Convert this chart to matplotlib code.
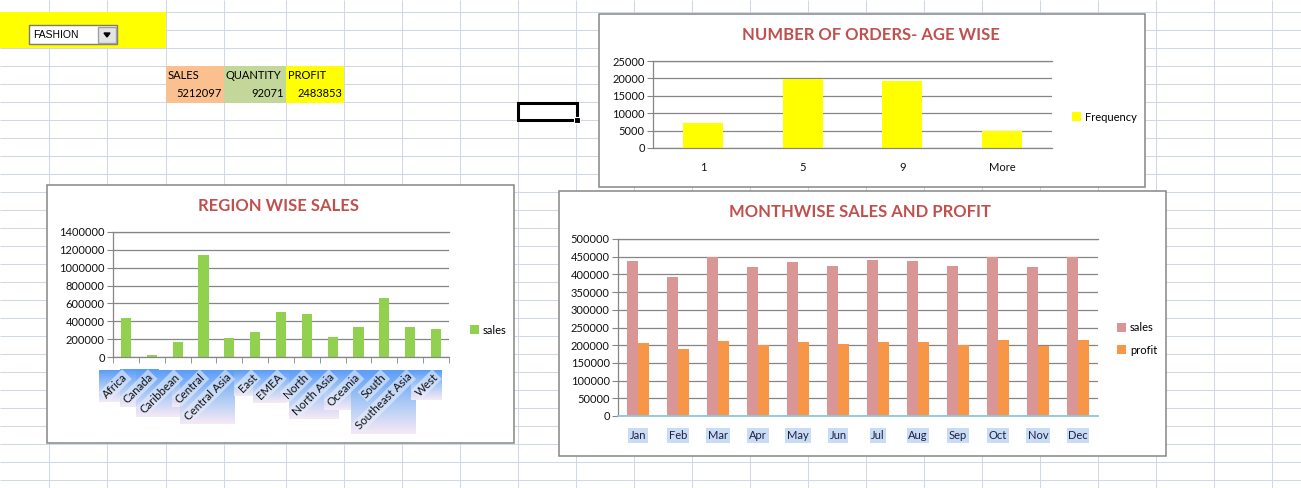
import numpy as np
import matplotlib
matplotlib.use("Agg")
import matplotlib.pyplot as plt
from matplotlib.patches import Rectangle, Polygon
from matplotlib.ticker import FuncFormatter

plt.rcParams["font.family"] = ["Lato", "DejaVu Sans"]

W, H = 1301, 488

# ---- data ----
age_bins = ["1", "5", "9", "More"]
age_freq = [7300, 19700, 19300, 4800]

regions = ["Africa", "Canada", "Caribbean", "Central", "Central Asia", "East", "EMEA",
           "North", "North Asia", "Oceania", "South", "Southeast Asia", "West"]
region_sales = [439000, 26000, 164000, 1147000, 216000, 275000, 505000,
                485000, 227000, 340000, 663000, 331000, 316000]

months = ["Jan", "Feb", "Mar", "Apr", "May", "Jun", "Jul", "Aug", "Sep", "Oct", "Nov", "Dec"]
month_sales = [439000, 394000, 449000, 422000, 436000, 425000,
               442000, 439000, 425000, 449000, 420000, 450000]
month_profit = [206000, 189000, 212000, 200000, 209000, 203000,
                209000, 209000, 200000, 214000, 199000, 214000]

total_names = ["SALES", "QUANTITY", "PROFIT"]
total_values = [5212097, 92071, 2483853]
category = "FASHION"

GRID = "#D0D7E5"
FRAME = "#868686"
TITLE = "#C0504D"


def box(x0, y0, x1, y1):
    # pixel box (top-left origin) -> figure fraction
    return [x0 / W, 1 - y1 / H, (x1 - x0) / W, (y1 - y0) / H]


fig = plt.figure(figsize=(W / 100, H / 100), dpi=100)
sheet = fig.add_axes([0, 0, 1, 1])
sheet.set_xlim(0, W)
sheet.set_ylim(H, 0)
sheet.axis("off")

# spreadsheet grid
cols = [49, 107, 166, 224, 286, 344] + list(range(402, W, 58))
rows = list(range(12, H, 18))
sheet.vlines(cols, 0, H, color=GRID, lw=0.75, zorder=1)
sheet.hlines(rows, 0, W, color=GRID, lw=0.75, zorder=1)

# yellow block with dropdown
sheet.add_patch(Rectangle((0, 12), 166, 36, facecolor="#FFFF00", edgecolor="none", zorder=2))
sheet.add_patch(Rectangle((29, 25), 88, 19, facecolor="white", edgecolor="#7A7A7A", lw=1, zorder=3))
sheet.add_patch(Rectangle((98, 26.5), 17.5, 16, facecolor="#E4E4E4", edgecolor="#A0A0A0", lw=1, zorder=4))
sheet.add_patch(Polygon([(104, 33), (110, 33), (107, 37)], closed=True, color="black", zorder=5))
sheet.text(33, 35, category, fontsize=7.5, family="Liberation Sans", va="center", zorder=5)

# totals cells
cell_x = [166, 224, 286, 344]
cell_colors = ["#FAC090", "#C4D79B", "#FFFF00"]
for i, (name, val) in enumerate(zip(total_names, total_values)):
    x0, x1 = cell_x[i], cell_x[i + 1]
    sheet.add_patch(Rectangle((x0, 66), x1 - x0, 37, facecolor=cell_colors[i], edgecolor="none", zorder=2))
    sheet.text(x0 + 2, 75.5, name, fontsize=8, va="center", zorder=3)
    sheet.text(x1 - 2, 93.5, str(val), fontsize=8, va="center", ha="right", zorder=3)

# selected cell
sheet.add_patch(Rectangle((518, 103), 59, 17, facecolor="none", edgecolor="black", lw=2.2, zorder=3))
sheet.add_patch(Rectangle((574, 117), 6, 6, facecolor="black", edgecolor="white", lw=0.8, zorder=4))

# chart frames
for (x0, y0, x1, y1) in [(599, 14, 1145, 187), (47, 185, 514, 443), (559, 191, 1166, 456)]:
    sheet.add_patch(Rectangle((x0, y0), x1 - x0, y1 - y0, facecolor="white", edgecolor=FRAME, lw=1.1, zorder=5))

# titles
sheet.text(871, 35, "NUMBER OF ORDERS- AGE WISE", fontsize=12, fontweight="bold", color=TITLE,
           ha="center", va="center", zorder=6)
sheet.text(279, 206, "REGION WISE SALES", fontsize=12, fontweight="bold", color=TITLE,
           ha="center", va="center", zorder=6)
sheet.text(860, 212, "MONTHWISE SALES AND PROFIT", fontsize=12, fontweight="bold", color=TITLE,
           ha="center", va="center", zorder=6)


def style_chart(ax, ymax, step):
    ax.set_facecolor("none")
    ax.set_ylim(0, ymax)
    ax.set_yticks(np.arange(0, ymax + 1, step))
    ax.yaxis.set_major_formatter(FuncFormatter(lambda v, p: f"{int(v)}"))
    ax.yaxis.grid(True, color=FRAME, lw=0.9)
    ax.set_axisbelow(True)
    ax.spines["right"].set_visible(False)
    for s in ["left", "bottom", "top"]:
        ax.spines[s].set_color(FRAME)
        ax.spines[s].set_linewidth(0.9)
    ax.tick_params(axis="y", length=4, color=FRAME, labelsize=8, pad=2, labelcolor="#111111")
    ax.tick_params(axis="x", length=0, labelsize=8, labelcolor="#111111")


def add_legend(ax, ax_x, ax_y, spacing=0.5):
    ax.legend(loc="center left", bbox_to_anchor=(ax_x, ax_y), frameon=False, fontsize=8,
              handlelength=0.8, handleheight=0.8, handletextpad=0.35, borderpad=0,
              borderaxespad=0, labelspacing=spacing)


# ---- orders by age ----
ax1 = fig.add_axes(box(653, 61, 1052, 148))
x1 = np.arange(len(age_bins))
ax1.bar(x1, age_freq, width=0.4, color="#FFFF00", label="Frequency")
ax1.set_xlim(-0.5, len(age_bins) - 0.5)
style_chart(ax1, 25000, 5000)
ax1.set_xticks(x1)
ax1.set_xticklabels(age_bins)
ax1.tick_params(axis="x", pad=10)
add_legend(ax1, 1.05, 0.356)

# ---- region wise sales ----
ax2 = fig.add_axes(box(113, 232, 449, 357))
x2 = np.arange(len(regions))
ax2.bar(x2, region_sales, width=0.39, color="#92D050", label="sales")
ax2.set_xlim(-0.5, len(regions) - 0.5)
style_chart(ax2, 1400000, 200000)
ax2.set_xticks(x2)
ax2.set_xticklabels(regions, rotation=45, ha="right", va="center", rotation_mode="anchor")
ax2.set_xticks(np.arange(-0.5, len(regions)), minor=True)
ax2.tick_params(axis="x", which="minor", length=4, color=FRAME)
ax2.tick_params(axis="x", which="major", pad=13, labelsize=8.3)
for lab in ax2.get_xticklabels():
    lab.set_bbox(dict(facecolor="#E8EEFB", alpha=0.6, edgecolor="none", pad=1))
add_legend(ax2, 1.0625, 0.216)

# ---- monthwise sales and profit ----
ax3 = fig.add_axes(box(618, 239, 1098, 416))
x3 = np.arange(len(months))
bw = 0.275
ax3.bar(x3 - bw / 2, month_sales, width=bw, color="#D99694", label="sales")
ax3.bar(x3 + bw / 2, month_profit, width=bw, color="#F79646", label="profit")
ax3.set_xlim(-0.5, len(months) - 0.5)
style_chart(ax3, 500000, 50000)
ax3.spines["bottom"].set_color("#8CC8DC")
ax3.spines["bottom"].set_linewidth(1.3)
ax3.set_xticks(x3)
ax3.set_xticklabels(months)
ax3.tick_params(axis="x", pad=10, labelcolor="#1F1F40")
for lab in ax3.get_xticklabels():
    lab.set_bbox(dict(facecolor="#C9DCF5", edgecolor="none", pad=1.2))
add_legend(ax3, 1.04, 0.435, spacing=1.0)

# gradient boxes behind the region labels
fig.canvas.draw()
stops = np.array([[0x5C, 0x9D, 0xF8], [0xA9, 0xC9, 0xF5], [0xF6, 0xE9, 0xF6]]) / 255.0
t = np.linspace(0, 1, 64)
grad = np.stack([np.interp(t, [0, 0.5, 1], stops[:, c]) for c in range(3)], axis=1)[:, None, :]
for lab in ax2.get_xticklabels():
    bb = lab.get_window_extent()
    sheet.imshow(grad, extent=(bb.x0 - 2, bb.x1 + 2, H - bb.y0 + 2, H - bb.y1 - 1),
                 aspect="auto", interpolation="bilinear", zorder=6)
sheet.set_xlim(0, W)
sheet.set_ylim(H, 0)

fig.savefig("out.png", dpi=100)
